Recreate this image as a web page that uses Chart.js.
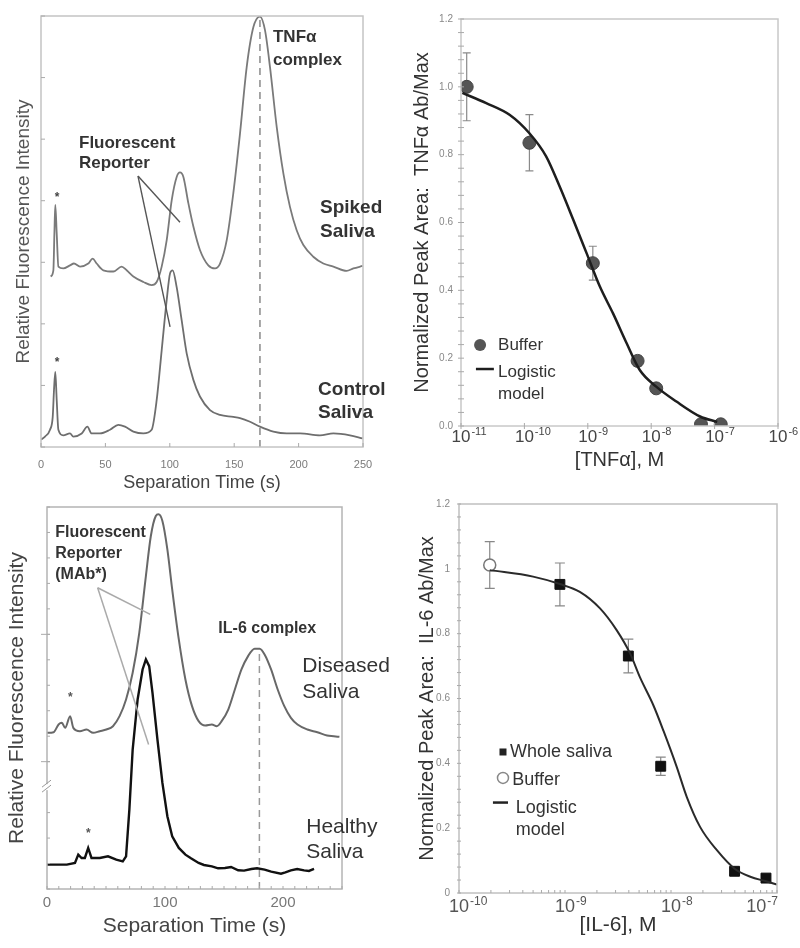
<!DOCTYPE html>
<html>
<head>
<meta charset="utf-8">
<title>TNFα / IL-6 saliva immunoassay</title>
<script src="https://cdn.jsdelivr.net/npm/chart.js@4.4.1/dist/chart.umd.min.js"></script>
<style>
  body { margin: 0; background: #fff; }
  #wrap { position: relative; width: 800px; height: 948px; overflow: hidden; }
  .panel { position: absolute; }
</style>
</head>
<body>
<div id="wrap">
  <div class="panel" style="left:0;top:0;width:400px;height:500px"><canvas id="tnfTrace"></canvas></div>
  <div class="panel" style="left:400px;top:0;width:400px;height:480px"><canvas id="tnfCurve"></canvas></div>
  <div class="panel" style="left:0;top:490px;width:400px;height:458px"><canvas id="il6Trace"></canvas></div>
  <div class="panel" style="left:400px;top:480px;width:400px;height:468px"><canvas id="il6Curve"></canvas></div>
</div>
<script>
const FONT = "'Liberation Sans', Arial, Helvetica, sans-serif";
Chart.defaults.font.family = FONT;
Chart.defaults.animation = false;

// ---- TNFα electropherograms (arbitrary intensity units) ----
const spikedTime = [7.5, 9.6, 10.4, 11.1, 12.2, 13.5, 17.3, 22.5, 25.6, 30.3, 36.7, 40.1, 43.2, 48.4, 56.2, 62.6, 66.5, 71.7, 79.5, 85.9, 89.8, 93.7, 97.6, 101.5, 105.4, 107.9, 110.5, 114.4, 118.3, 123.4, 129.9, 135.1, 139.0, 144.2, 149.3, 154.5, 159.7, 164.9, 170.0, 173.9, 177.8, 183.0, 188.2, 193.3, 198.5, 203.7, 211.4, 219.2, 227.0, 237.3, 242.5, 249.7];
const spikedSignal = [2.77, 2.87, 3.47, 3.93, 3.47, 2.93, 2.90, 2.95, 2.98, 2.93, 2.98, 3.06, 2.98, 2.87, 2.85, 2.93, 2.87, 2.77, 2.68, 2.63, 2.68, 2.93, 3.36, 4.01, 4.39, 4.46, 4.39, 3.96, 3.58, 3.20, 2.95, 2.90, 2.98, 3.36, 4.12, 5.09, 6.17, 6.82, 6.99, 6.77, 6.17, 5.20, 4.44, 3.90, 3.52, 3.28, 3.09, 2.98, 2.93, 2.86, 2.90, 2.94];
const controlTime = [0, 3.1, 7.0, 9.1, 10.1, 11.1, 12.2, 13.5, 17.3, 22.5, 25.1, 31.6, 36.0, 39.3, 45.8, 53.6, 60.0, 65.2, 71.7, 79.5, 85.9, 89.8, 93.7, 97.6, 100.2, 102.2, 105.3, 109.2, 113.1, 118.3, 123.4, 131.2, 139.0, 149.3, 154.5, 162.3, 170.0, 180.4, 190.7, 201.1, 216.6, 227.0, 239.9, 249.7];
const controlSignal = [0.12, 0.17, 0.28, 0.49, 0.93, 1.22, 0.76, 0.28, 0.19, 0.22, 0.17, 0.22, 0.33, 0.22, 0.22, 0.28, 0.36, 0.33, 0.25, 0.22, 0.28, 0.76, 1.57, 2.39, 2.82, 2.87, 2.60, 2.06, 1.52, 1.09, 0.82, 0.60, 0.52, 0.49, 0.47, 0.41, 0.33, 0.25, 0.22, 0.22, 0.19, 0.22, 0.19, 0.14];
const tnfTimeTicks = [0, 50, 100, 150, 200, 250];

// ---- TNFα calibration ----
const tnfConc = [1.23e-11, 1.2e-10, 1.2e-9, 6.1e-9, 1.2e-8, 6.1e-8, 1.25e-7];
const tnfArea = [1.0, 0.835, 0.48, 0.192, 0.111, 0.005, 0.005];
const tnfErr = [0.10, 0.083, 0.05, 0.015, 0, 0, 0];
const tnfFitConc = [1.05e-11, 2.5e-11, 5.9e-11, 1.2e-10, 2.2e-10, 3.6e-10, 5.9e-10, 9.6e-10, 1.55e-9, 2.5e-9, 4.1e-9, 6.6e-9, 1.2e-8, 2.5e-8, 5.9e-8, 1.1e-7];
const tnfFitArea = [0.982, 0.952, 0.917, 0.863, 0.795, 0.706, 0.608, 0.509, 0.411, 0.332, 0.244, 0.165, 0.116, 0.072, 0.028, 0.012];
const tnfAreaTicks = [0, 0.2, 0.4, 0.6, 0.8, 1.0, 1.2];
const tnfDecades = [-11, -10, -9, -8, -7, -6];

// ---- IL-6 electropherograms ----
const diseasedTime = [0, 5.6, 9.8, 12.6, 15.4, 19.6, 22.3, 27.9, 33.5, 39.1, 44.7, 50.3, 55.9, 61.5, 67.0, 72.6, 78.2, 83.8, 88.0, 92.2, 94.4, 97.8, 102.0, 106.1, 111.7, 117.3, 122.9, 128.5, 134.1, 139.7, 143.9, 148.0, 153.6, 159.2, 164.8, 170.4, 176.0, 180.2, 184.4, 189.9, 195.5, 201.1, 206.7, 212.3, 220.7, 229.1, 237.4, 243.0, 247.8];
const diseasedSignal = [4.68, 4.70, 4.93, 4.98, 4.83, 5.18, 4.83, 4.73, 4.78, 4.68, 4.73, 4.78, 4.88, 5.18, 5.68, 6.48, 7.68, 9.38, 10.58, 11.18, 11.23, 11.03, 10.18, 8.98, 7.48, 6.28, 5.48, 5.03, 4.90, 4.93, 4.88, 5.03, 5.38, 5.98, 6.58, 6.98, 7.20, 7.20, 7.03, 6.58, 5.98, 5.48, 5.13, 4.93, 4.78, 4.70, 4.60, 4.58, 4.56];
const healthyTime = [0, 8.4, 16.8, 23.7, 26.5, 29.3, 32.1, 34.9, 37.7, 44.7, 51.7, 58.7, 64.2, 67.0, 69.8, 72.6, 76.8, 81.0, 83.8, 86.6, 89.4, 93.6, 97.8, 102.0, 106.1, 111.7, 117.3, 122.0, 128.5, 133.0, 139.7, 145.0, 150.8, 156.0, 162.0, 167.0, 173.2, 178.0, 184.4, 190.0, 198.3, 202.0, 206.7, 212.0, 217.9, 222.0, 226.3];
const healthySignal = [0.73, 0.73, 0.73, 0.78, 1.03, 0.93, 0.93, 1.23, 0.93, 0.93, 0.98, 0.88, 0.83, 0.98, 2.38, 4.18, 5.68, 6.58, 6.88, 6.68, 5.88, 4.48, 3.18, 2.18, 1.58, 1.23, 1.03, 0.92, 0.78, 0.72, 0.68, 0.62, 0.63, 0.66, 0.56, 0.55, 0.60, 0.62, 0.58, 0.52, 0.46, 0.50, 0.56, 0.60, 0.56, 0.54, 0.60];
const il6TimeTicks = [0, 100, 200];

// ---- IL-6 calibration ----
const il6SalivaConc = [8.95e-10, 3.96e-9, 8.0e-9, 3.98e-8, 7.87e-8];
const il6SalivaArea = [0.952, 0.731, 0.391, 0.067, 0.046];
const il6SalivaErr = [0.066, 0.052, 0.028, 0.01, 0.008];
const il6BufferConc = [1.95e-10];
const il6BufferArea = [1.012];
const il6BufferErr = [0.072];
const il6FitConc = [1.95e-10, 5.0e-10, 8.95e-10, 1.38e-9, 2.14e-9, 3.07e-9, 4.11e-9, 5.1e-9, 6.8e-9, 8.5e-9, 1.13e-8, 1.41e-8, 1.88e-8, 2.71e-8, 3.98e-8, 5.6e-8, 7.9e-8, 1.0e-7];
const il6FitArea = [0.996, 0.976, 0.953, 0.929, 0.878, 0.811, 0.739, 0.665, 0.58, 0.50, 0.39, 0.296, 0.204, 0.132, 0.075, 0.050, 0.036, 0.026];
const il6AreaTicks = [0, 0.2, 0.4, 0.6, 0.8, 1, 1.2];
const il6Decades = [-10, -9, -8, -7];

const pts = (xs, ys) => xs.map((x, i) => ({x, y: ys[i]}));
const range = (from, to, step) => {
    let out = [];
    for (let v = from; v <= to + 1e-9; v += step) out.push(Math.round(v * 1e6) / 1e6);
    return out;
};
const logMinors = (fromExp, toExp) => {
    let out = [];
    for (let e = fromExp; e < toExp; e++) {
        for (let k = 1; k < 10; k++) out.push(k * Math.pow(10, e));
    }
    out.push(Math.pow(10, toExp));
    return out;
};

// draws frame, tick marks, notes, leaders, error bars and hand legends through the chart scales
const panelDecor = {
    id: 'panelDecor',
    beforeDatasetsDraw(chart, args, o) {
        const {ctx, scales: {x, y}} = chart;
        ctx.save();
        (o.guides || []).forEach(g => {
            ctx.strokeStyle = g.color;
            ctx.lineWidth = g.width;
            ctx.setLineDash(g.dash || []);
            ctx.beginPath();
            ctx.moveTo(x.getPixelForValue(g.from[0]), y.getPixelForValue(g.from[1]));
            ctx.lineTo(x.getPixelForValue(g.to[0]), y.getPixelForValue(g.to[1]));
            ctx.stroke();
        });
        ctx.setLineDash([]);
        (o.errorBars || []).forEach(e => {
            ctx.strokeStyle = e.color;
            ctx.lineWidth = e.width;
            e.xs.forEach((xv, i) => {
                if (!e.errs[i]) return;
                const px = x.getPixelForValue(xv);
                const top = y.getPixelForValue(e.ys[i] + e.errs[i]);
                const bot = y.getPixelForValue(e.ys[i] - e.errs[i]);
                ctx.beginPath();
                ctx.moveTo(px, top); ctx.lineTo(px, bot);
                ctx.moveTo(px - e.cap, top); ctx.lineTo(px + e.cap, top);
                ctx.moveTo(px - e.cap, bot); ctx.lineTo(px + e.cap, bot);
                ctx.stroke();
            });
        });
        ctx.restore();
    },
    afterDraw(chart, args, o) {
        const {ctx, chartArea: a, scales: {x, y}} = chart;
        ctx.save();
        ctx.strokeStyle = o.frame;
        ctx.lineWidth = 1.5;
        ctx.strokeRect(a.left, a.top, a.width, a.height);

        (o.marks || []).forEach(m => {
            const s = chart.scales[m.axis];
            ctx.strokeStyle = m.color || o.frame;
            ctx.lineWidth = 1;
            m.values.forEach(v => {
                const p = s.getPixelForValue(v);
                ctx.beginPath();
                if (m.axis === 'x') {
                    ctx.moveTo(p, a.bottom + m.out); ctx.lineTo(p, a.bottom - m.in);
                } else {
                    ctx.moveTo(a.left - m.out, p); ctx.lineTo(a.left + m.in, p);
                }
                ctx.stroke();
            });
        });

        if (o.axisBreak) {
            const p = y.getPixelForValue(o.axisBreak.at);
            ctx.fillStyle = '#fff';
            ctx.fillRect(a.left - 2, p - 3, 4, 6);
            ctx.strokeStyle = o.axisBreak.color;
            ctx.lineWidth = 1;
            ctx.beginPath();
            ctx.moveTo(a.left - 5, p); ctx.lineTo(a.left + 4, p - 7);
            ctx.moveTo(a.left - 5, p + 5); ctx.lineTo(a.left + 4, p - 2);
            ctx.stroke();
        }

        if (o.powers) {
            const pw = o.powers;
            pw.exps.forEach((e, i) => {
                const px = x.getPixelForValue(Math.pow(10, e));
                const sup = '-' + Math.abs(e);
                ctx.font = `${pw.size}px ${FONT}`;
                const w1 = ctx.measureText('10').width;
                ctx.font = `${pw.supSize}px ${FONT}`;
                const w2 = ctx.measureText(sup).width;
                let left = px - w1 / 2;
                if (pw.endAlign && i === pw.exps.length - 1) left = a.right - w1 - w2;
                ctx.fillStyle = pw.color;
                ctx.textAlign = 'left';
                ctx.textBaseline = 'alphabetic';
                ctx.font = `${pw.size}px ${FONT}`;
                ctx.fillText('10', left, a.bottom + pw.dy);
                ctx.font = `${pw.supSize}px ${FONT}`;
                ctx.fillText(sup, left + w1 + 1, a.bottom + pw.dy - pw.raise);
            });
        }

        (o.leaders || []).forEach(l => {
            ctx.strokeStyle = l.color;
            ctx.lineWidth = l.width;
            const fx = x.getPixelForValue(l.from[0]), fy = y.getPixelForValue(l.from[1]);
            l.to.forEach(t => {
                ctx.beginPath();
                ctx.moveTo(fx, fy);
                ctx.lineTo(x.getPixelForValue(t[0]), y.getPixelForValue(t[1]));
                ctx.stroke();
            });
        });

        (o.keys || []).forEach(k => {
            const px = x.getPixelForValue(k.at[0]), py = y.getPixelForValue(k.at[1]);
            ctx.beginPath();
            if (k.kind === 'dot') {
                ctx.fillStyle = k.color;
                ctx.arc(px, py, k.size, 0, Math.PI * 2);
                ctx.fill();
            } else if (k.kind === 'square') {
                ctx.fillStyle = k.color;
                ctx.fillRect(px - k.size / 2, py - k.size / 2, k.size, k.size);
            } else if (k.kind === 'ring') {
                ctx.fillStyle = '#fff';
                ctx.strokeStyle = k.color;
                ctx.lineWidth = 1.5;
                ctx.arc(px, py, k.size, 0, Math.PI * 2);
                ctx.fill();
                ctx.stroke();
            } else if (k.kind === 'line') {
                ctx.strokeStyle = k.color;
                ctx.lineWidth = k.size;
                ctx.moveTo(px, py);
                ctx.lineTo(x.getPixelForValue(k.to), py);
                ctx.stroke();
            }
        });

        (o.notes || []).forEach(n => {
            ctx.font = n.font;
            ctx.fillStyle = n.color;
            ctx.textAlign = n.align || 'left';
            ctx.textBaseline = 'middle';
            const px = x.getPixelForValue(n.at[0]), py = y.getPixelForValue(n.at[1]);
            n.lines.forEach((t, i) => ctx.fillText(t, px, py + i * (n.lh || 0)));
        });
        ctx.restore();
    }
};
Chart.register(panelDecor);

const fixBox = (w, h) => s => {
    if (w) s.width = w;
    if (h) s.height = h;
    s.paddingLeft = 0; s.paddingRight = 0; s.paddingTop = 0; s.paddingBottom = 0;
};
const setTicks = list => s => { s.ticks = list.map(v => ({value: v})); };
const noGrid = {display: false, drawTicks: false};
const quiet = {legend: {display: false}, tooltip: {enabled: false}};

// TNFα traces
new Chart(document.getElementById('tnfTrace'), {
    type: 'scatter',
    data: {
        datasets: [
            {label: 'Spiked Saliva', data: pts(spikedTime, spikedSignal), showLine: true, pointRadius: 0,
                borderColor: '#7a7a7a', borderWidth: 1.8, cubicInterpolationMode: 'monotone'},
            {label: 'Control Saliva', data: pts(controlTime, controlSignal), showLine: true, pointRadius: 0,
                borderColor: '#6e6e6e', borderWidth: 1.8, cubicInterpolationMode: 'monotone'}
        ]
    },
    options: {
        responsive: true, maintainAspectRatio: false,
        layout: {padding: {left: 0, top: 16, right: 37, bottom: 0}},
        scales: {
            x: {type: 'linear', min: 0, max: 250, afterBuildTicks: setTicks(tnfTimeTicks), afterFit: fixBox(0, 53),
                grid: noGrid, border: {display: false},
                ticks: {color: '#7a7a7a', font: {size: 11}, padding: 11, maxRotation: 0, autoSkip: false},
                title: {display: true, text: 'Separation Time (s)', color: '#444', font: {size: 18}, padding: {top: 0, bottom: 6}}},
            y: {min: 0, max: 7, afterFit: fixBox(41, 0), grid: noGrid, border: {display: false}, ticks: {display: false},
                title: {display: true, text: 'Relative Fluorescence Intensity', color: '#555', font: {size: 19}, padding: {top: 12, bottom: 0}}}
        },
        plugins: {
            ...quiet,
            panelDecor: {
                frame: '#c4c4c4',
                marks: [
                    {axis: 'x', values: range(0, 250, 50), in: 4, out: 0, color: '#aaa'},
                    {axis: 'y', values: range(0, 7, 1), in: 4, out: 0, color: '#aaa'}
                ],
                guides: [{from: [170, 0], to: [170, 6.95], color: '#8a8a8a', width: 1.5, dash: [7, 5]}],
                leaders: [{from: [75.3, 4.40], to: [[107.9, 3.65], [100.2, 1.95]], color: '#555', width: 1.4}],
                notes: [
                    {at: [180.1, 6.66], lines: ['TNFα', 'complex'], lh: 23, font: `bold 17px ${FONT}`, color: '#333'},
                    {at: [29.5, 4.94], lines: ['Fluorescent', 'Reporter'], lh: 20, font: `bold 17px ${FONT}`, color: '#333'},
                    {at: [216.6, 3.88], lines: ['Spiked', 'Saliva'], lh: 24, font: `bold 19px ${FONT}`, color: '#333'},
                    {at: [215.1, 0.93], lines: ['Control', 'Saliva'], lh: 23, font: `bold 19px ${FONT}`, color: '#333'},
                    {at: [12.4, 4.05], lines: ['*'], font: `bold 12px ${FONT}`, color: '#444', align: 'center'},
                    {at: [12.4, 1.37], lines: ['*'], font: `bold 12px ${FONT}`, color: '#444', align: 'center'}
                ]
            }
        }
    }
});

// TNFα calibration
new Chart(document.getElementById('tnfCurve'), {
    type: 'scatter',
    data: {
        datasets: [
            {label: 'Logistic model', data: pts(tnfFitConc, tnfFitArea), showLine: true, pointRadius: 0,
                borderColor: '#1e1e1e', borderWidth: 2.5, cubicInterpolationMode: 'monotone'},
            {label: 'Buffer', data: pts(tnfConc, tnfArea), pointRadius: 6.5, pointBackgroundColor: '#555',
                pointBorderColor: '#444', pointBorderWidth: 1}
        ]
    },
    options: {
        responsive: true, maintainAspectRatio: false,
        layout: {padding: {left: 0, top: 19, right: 22, bottom: 0}},
        scales: {
            x: {type: 'logarithmic', min: 1e-11, max: 1e-6, afterFit: fixBox(0, 54), grid: noGrid, border: {display: false},
                ticks: {display: false},
                title: {display: true, text: '[TNFα], M', color: '#333', font: {size: 20}, padding: {top: 0, bottom: 8}}},
            y: {min: 0, max: 1.2, afterBuildTicks: setTicks(tnfAreaTicks), afterFit: fixBox(61, 0), grid: noGrid, border: {display: false},
                ticks: {color: '#888', font: {size: 10}, padding: 8, callback: v => v.toFixed(1)},
                title: {display: true, text: 'Normalized Peak Area:  TNFα Ab/Max', color: '#333', font: {size: 20}, padding: {top: 10, bottom: 0}}}
        },
        plugins: {
            ...quiet,
            panelDecor: {
                frame: '#c8c8c8',
                marks: [
                    {axis: 'y', values: range(0, 1.2, 0.04), in: 3, out: 3, color: '#aaa'},
                    {axis: 'x', values: tnfDecades.map(e => Math.pow(10, e)), in: 3, out: 3, color: '#aaa'}
                ],
                powers: {exps: tnfDecades, size: 17, supSize: 11, raise: 7, dy: 16, color: '#444'},
                errorBars: [{xs: tnfConc, ys: tnfArea, errs: tnfErr, color: '#8a8a8a', width: 1.2, cap: 4}],
                keys: [
                    {kind: 'dot', at: [2.0e-11, 0.239], size: 6, color: '#555'},
                    {kind: 'line', at: [1.72e-11, 0.168], to: 3.3e-11, size: 2.5, color: '#1e1e1e'}
                ],
                notes: [
                    {at: [3.84e-11, 0.239], lines: ['Buffer'], font: `17px ${FONT}`, color: '#333'},
                    {at: [3.84e-11, 0.159], lines: ['Logistic', 'model'], lh: 22, font: `17px ${FONT}`, color: '#333'}
                ]
            }
        }
    }
});

// IL-6 traces
new Chart(document.getElementById('il6Trace'), {
    type: 'scatter',
    data: {
        datasets: [
            {label: 'Diseased Saliva', data: pts(diseasedTime, diseasedSignal), showLine: true, pointRadius: 0,
                borderColor: '#686868', borderWidth: 2, cubicInterpolationMode: 'monotone'},
            {label: 'Healthy Saliva', data: pts(healthyTime, healthySignal), showLine: true, pointRadius: 0,
                borderColor: '#111', borderWidth: 2.4}
        ]
    },
    options: {
        responsive: true, maintainAspectRatio: false,
        layout: {padding: {left: 0, top: 17, right: 58, bottom: 0}},
        scales: {
            x: {type: 'linear', min: 0, max: 250, afterBuildTicks: setTicks(il6TimeTicks), afterFit: fixBox(0, 59),
                grid: noGrid, border: {display: false},
                ticks: {color: '#777', font: {size: 15}, padding: 5, maxRotation: 0, autoSkip: false},
                title: {display: true, text: 'Separation Time (s)', color: '#444', font: {size: 21}, padding: {top: 0, bottom: 9}}},
            y: {min: 0, max: 11.45, afterFit: fixBox(47, 0), grid: noGrid, border: {display: false}, ticks: {display: false},
                title: {display: true, text: 'Relative Fluorescence Intensity', color: '#444', font: {size: 21}, padding: {top: 5, bottom: 0}}}
        },
        plugins: {
            ...quiet,
            panelDecor: {
                frame: '#b4b4b4',
                marks: [
                    {axis: 'x', values: range(0, 250, 10), in: 3, out: 0, color: '#aaa'},
                    {axis: 'y', values: range(0, 11.45, 11.45 / 15).filter((v, i) => i !== 4), in: 3, out: 0, color: '#aaa'},
                    {axis: 'y', values: [11.45 / 3, 11.45 * 2 / 3], in: 3, out: 6, color: '#aaa'}
                ],
                axisBreak: {at: 11.45 * 4 / 15, color: '#999'},
                guides: [{from: [180, 0], to: [180, 7.08], color: '#999', width: 1.5, dash: [7, 5]}],
                leaders: [{from: [42.9, 9.03], to: [[87.5, 8.23], [86.1, 4.33]], color: '#aaa', width: 1.5}],
                notes: [
                    {at: [7.0, 10.69], lines: ['Fluorescent', 'Reporter', '(MAb*)'], lh: 21, font: `bold 16px ${FONT}`, color: '#333'},
                    {at: [145.2, 7.81], lines: ['IL-6 complex'], font: `bold 16px ${FONT}`, color: '#333'},
                    {at: [216.4, 6.67], lines: ['Diseased', 'Saliva'], lh: 26, font: `21px ${FONT}`, color: '#333'},
                    {at: [219.7, 1.84], lines: ['Healthy', 'Saliva'], lh: 25, font: `21px ${FONT}`, color: '#333'},
                    {at: [19.7, 5.72], lines: ['*'], font: `bold 12px ${FONT}`, color: '#555', align: 'center'},
                    {at: [35.0, 1.67], lines: ['*'], font: `bold 12px ${FONT}`, color: '#555', align: 'center'}
                ]
            }
        }
    }
});

// IL-6 calibration
new Chart(document.getElementById('il6Curve'), {
    type: 'scatter',
    data: {
        datasets: [
            {label: 'Logistic model', data: pts(il6FitConc, il6FitArea), showLine: true, pointRadius: 0,
                borderColor: '#2a2a2a', borderWidth: 2, cubicInterpolationMode: 'monotone'},
            {label: 'Whole saliva', data: pts(il6SalivaConc, il6SalivaArea), pointStyle: 'rect', pointRadius: 7,
                pointBackgroundColor: '#111', pointBorderColor: '#111'},
            {label: 'Buffer', data: pts(il6BufferConc, il6BufferArea), pointRadius: 6, pointBackgroundColor: '#fff',
                pointBorderColor: '#777', pointBorderWidth: 1.5}
        ]
    },
    options: {
        responsive: true, maintainAspectRatio: false,
        layout: {padding: {left: 0, top: 24, right: 23, bottom: 0}},
        scales: {
            x: {type: 'logarithmic', min: 1e-10, max: 1e-7, afterFit: fixBox(0, 55), grid: noGrid, border: {display: false},
                ticks: {display: false},
                title: {display: true, text: '[IL-6], M', color: '#333', font: {size: 21}, padding: {top: 0, bottom: 10}}},
            y: {min: 0, max: 1.2, afterBuildTicks: setTicks(il6AreaTicks), afterFit: fixBox(59, 0), grid: noGrid, border: {display: false},
                ticks: {color: '#888', font: {size: 10}, padding: 9, callback: v => String(v)},
                title: {display: true, text: 'Normalized Peak Area:  IL-6 Ab/Max', color: '#333', font: {size: 20}, padding: {top: 15, bottom: 0}}}
        },
        plugins: {
            ...quiet,
            panelDecor: {
                frame: '#c0c0c0',
                marks: [
                    {axis: 'y', values: range(0, 1.2, 0.04), in: 2, out: 2, color: '#aaa'},
                    {axis: 'x', values: logMinors(-10, -7), in: 3, out: 0, color: '#aaa'}
                ],
                powers: {exps: il6Decades, size: 18, supSize: 12, raise: 7, dy: 19, color: '#555', endAlign: true},
                errorBars: [
                    {xs: il6SalivaConc, ys: il6SalivaArea, errs: il6SalivaErr, color: '#888', width: 1.2, cap: 5},
                    {xs: il6BufferConc, ys: il6BufferArea, errs: il6BufferErr, color: '#888', width: 1.2, cap: 5}
                ],
                keys: [
                    {kind: 'square', at: [2.6e-10, 0.435], size: 7, color: '#222'},
                    {kind: 'ring', at: [2.6e-10, 0.355], size: 5.5, color: '#888'},
                    {kind: 'line', at: [2.09e-10, 0.279], to: 2.9e-10, size: 2.5, color: '#222'}
                ],
                notes: [
                    {at: [3.03e-10, 0.436], lines: ['Whole saliva'], font: `18px ${FONT}`, color: '#333'},
                    {at: [3.18e-10, 0.349], lines: ['Buffer'], font: `18px ${FONT}`, color: '#333'},
                    {at: [3.43e-10, 0.262], lines: ['Logistic', 'model'], lh: 22, font: `18px ${FONT}`, color: '#333'}
                ]
            }
        }
    }
});
</script>
</body>
</html>
